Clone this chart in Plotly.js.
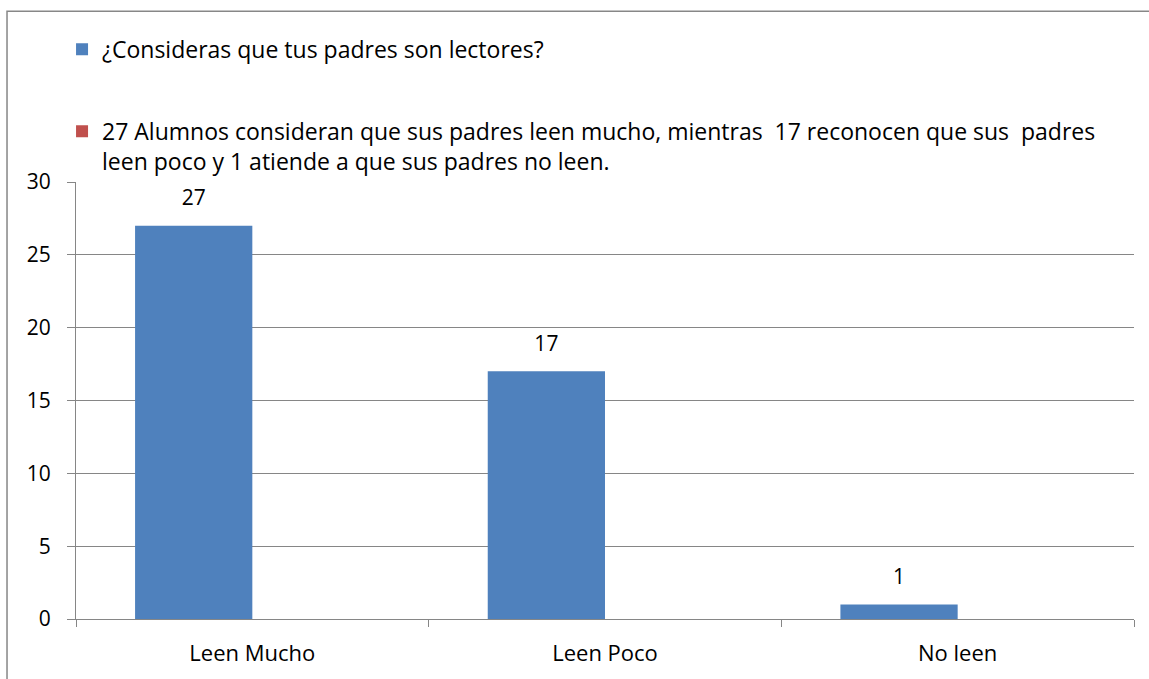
<!DOCTYPE html>
<html>
<head>
<meta charset="utf-8">
<script src="https://cdn.plot.ly/plotly-3.0.1.min.js"></script>
<style>
  html, body { margin: 0; padding: 0; background: #fff; }
  #chart { width: 1149px; height: 679px; }
</style>
</head>
<body>
<div id="chart"></div>
<script>
const categories = ["Leen Mucho", "Leen Poco", "No leen"];
const lectoresValues = [27, 17, 1];
const notaValues = [null, null, null];
const seriesName1 = "¿Consideras que tus padres son lectores?";
const seriesName2 = "27 Alumnos consideran que sus padres leen mucho, mientras&nbsp; 17 reconocen que sus&nbsp; padres<br>leen poco y 1 atiende a que sus padres no leen.";
const yTicks = [0, 5, 10, 15, 20, 25, 30];

const FONT = "Open Sans, Noto Sans, sans-serif";

const traces = [
  {
    type: "bar",
    x: categories,
    y: lectoresValues,
    name: seriesName1,
    legendgroup: "a",
    marker: { color: "#4F81BD" },
    texttemplate: "<span style='font-size:21px'>%{y}</span><br>&nbsp;",
    textposition: "outside",
    constraintext: "none",
    cliponaxis: false,
    textfont: { family: FONT, size: 11, color: "#000" },
    hoverinfo: "x+y"
  },
  {
    type: "bar",
    x: categories,
    y: notaValues,
    name: seriesName2,
    legendgroup: "b",
    marker: { color: "#C0504D" },
    hoverinfo: "skip"
  }
];

const layout = {
  width: 1149,
  height: 679,
  margin: { l: 76, r: 15, t: 182, b: 60, autoexpand: false },
  paper_bgcolor: "#fff",
  plot_bgcolor: "#fff",
  font: { family: FONT, size: 21, color: "#000" },
  barmode: "group",
  bargap: 0.335,
  bargroupgap: 0,
  showlegend: true,
  legend: {
    xref: "container",
    yref: "container",
    x: 0.054,
    y: 0.959,
    xanchor: "left",
    yanchor: "top",
    orientation: "v",
    traceorder: "grouped",
    tracegroupgap: 49,
    valign: "top",
    font: { family: FONT, size: 23, color: "#000" },
    bgcolor: "rgba(0,0,0,0)"
  },
  xaxis: {
    type: "category",
    showline: true,
    linecolor: "#868686",
    linewidth: 1.3,
    ticks: "outside",
    tickson: "boundaries",
    ticklen: 7,
    tickcolor: "#868686",
    tickwidth: 1.3,
    showgrid: false,
    tickangle: 0,
    tickfont: { family: FONT, size: 22, color: "#000" },
    ticklabelstandoff: 14,
    fixedrange: true
  },
  yaxis: {
    range: [0, 30],
    tickvals: yTicks,
    ticktext: yTicks.map(String),
    showline: true,
    linecolor: "#868686",
    linewidth: 1.3,
    ticks: "outside",
    ticklen: 8,
    tickcolor: "#868686",
    tickwidth: 1.3,
    showgrid: true,
    gridcolor: "#868686",
    gridwidth: 1.3,
    zeroline: false,
    tickfont: { family: FONT, size: 21, color: "#000" },
    ticklabelstandoff: 12,
    fixedrange: true
  },
  shapes: [
    {
      type: "rect",
      xref: "paper", yref: "paper",
      x0: -0.0652, x1: 1.2,
      y0: -0.3, y1: 1.391,
      line: { color: "#878787", width: 1.5 },
      fillcolor: "rgba(0,0,0,0)",
      layer: "below"
    }
  ]
};

Plotly.newPlot("chart", traces, layout, { displayModeBar: false });
</script>
</body>
</html>
